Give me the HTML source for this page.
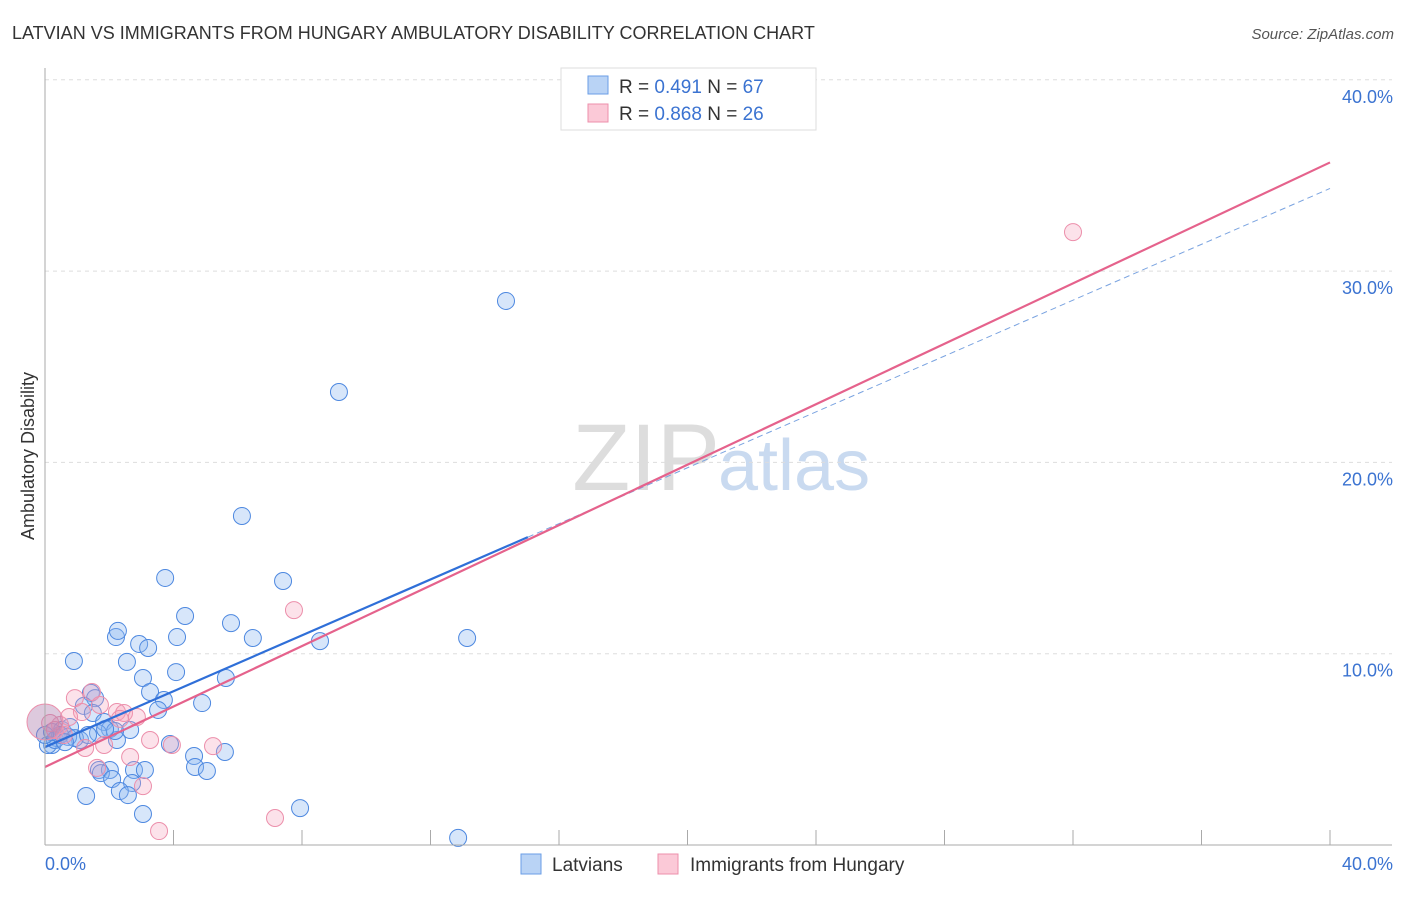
<!DOCTYPE html>
<html><head><meta charset="utf-8"><style>
body{margin:0;background:#fff;font-family:"Liberation Sans",sans-serif;}
svg text{font-family:"Liberation Sans",sans-serif;}
</style></head><body>
<svg id="chart" width="1406" height="892" xmlns="http://www.w3.org/2000/svg">
<text x="12" y="39" font-size="18" fill="#333">LATVIAN VS IMMIGRANTS FROM HUNGARY AMBULATORY DISABILITY CORRELATION CHART</text>
<text x="1394" y="39" font-size="15" fill="#555" text-anchor="end" font-style="italic">Source: ZipAtlas.com</text>
<text x="720" y="490" font-size="95" fill="#ddd" text-anchor="end" font-family="Liberation Serif">ZIP</text>
<text x="718" y="490" font-size="72" fill="#c9daf0">atlas</text>
<g id="grid"></g><g id="points"></g><g id="lines"></g>
<line x1="45" y1="68" x2="45" y2="845" stroke="#aaa"/>
<line x1="45" y1="845" x2="1392" y2="845" stroke="#aaa"/>
<text transform="translate(34,456) rotate(-90)" font-size="18" fill="#333" text-anchor="middle">Ambulatory Disability</text>
<text x="45" y="870" font-size="18" fill="#3b73d1">0.0%</text>
<text x="1393" y="870" font-size="18" fill="#3b73d1" text-anchor="end">40.0%</text>
<g>
<rect x="561" y="68" width="255" height="62" fill="#fff" stroke="#ddd"/>
<rect x="588" y="76" width="20" height="18" fill="#b9d3f5" stroke="#6a9ee6"/>
<rect x="588" y="104" width="20" height="18" fill="#fbc9d7" stroke="#ec8fab"/>
<text x="619" y="93" font-size="19" fill="#333">R = <tspan fill="#3b73d1">0.491</tspan>   N = <tspan fill="#3b73d1">67</tspan></text>
<text x="619" y="120" font-size="19" fill="#333">R = <tspan fill="#3b73d1">0.868</tspan>   N = <tspan fill="#3b73d1">26</tspan></text>
</g>
<g>
<rect x="521" y="854" width="20" height="20" fill="#b9d3f5" stroke="#6a9ee6"/>
<text x="552" y="871" font-size="19" fill="#333">Latvians</text>
<rect x="658" y="854" width="20" height="20" fill="#fbc9d7" stroke="#ec8fab"/>
<text x="690" y="871" font-size="19" fill="#333">Immigrants from Hungary</text>
</g>
</svg>
<script>
const yTicks=[10,20,30,40];
const yTickLabels=["10.0%","20.0%","30.0%","40.0%"];
const xTicks=[4,8,12,16,20,24,28,32,36,40];
const latviansX=[14.35,9.15,6.13,3.74,7.41,4.36,5.79,4.11,2.21,2.27,2.93,3.21,6.47,8.56,13.14,0.90,2.55,3.05,5.63,4.08,1.43,3.27,1.56,3.70,4.89,3.52,1.21,1.49,1.84,2.02,2.65,2.24,0.53,0.78,0.22,0.37,1.09,1.65,2.18,4.64,5.60,4.67,5.04,1.68,2.02,1.74,2.77,3.11,2.09,2.71,1.28,2.33,2.58,3.05,7.94,12.86,3.89,0.09,0.31,0.47,0.72,0.93,0.00,0.22,1.34,1.87,0.62];
const latviansY=[28.44,23.68,17.20,13.96,13.80,11.97,11.60,10.87,10.87,11.19,10.51,10.30,10.82,10.66,10.82,9.62,9.57,8.73,8.73,9.04,7.95,8.00,7.68,7.58,7.42,7.06,7.27,6.90,6.43,6.06,6.01,5.49,6.01,6.17,5.23,5.59,5.49,5.85,5.96,4.65,4.86,4.08,3.87,3.92,3.92,3.76,3.92,3.92,3.45,3.24,2.56,2.82,2.61,1.62,1.93,0.37,5.28,5.23,5.49,5.75,5.65,5.59,5.75,5.91,5.75,6.06,5.38];
const hungaryX=[32.0,7.75,1.46,0.93,1.71,1.15,2.24,2.46,2.86,0.75,3.27,3.95,5.23,2.65,3.05,1.62,3.55,7.16,0.47,0.16,0.31,1.84,1.25,2.33,0.59,0.0];
const hungaryY=[32.04,12.28,8.00,7.68,7.32,6.95,6.95,6.90,6.69,6.69,5.49,5.23,5.17,4.60,3.08,4.03,0.73,1.41,6.27,6.38,6.01,5.23,5.07,6.59,5.75,6.43];
const latviansFit=[5.12,0.730];
const hungaryFit=[4.08,0.790];
const NS="http://www.w3.org/2000/svg";
const sx=v=>45+v*32.125, sy=v=>845-v*19.13;
function mk(tag,attrs,parent){const e=document.createElementNS(NS,tag);for(const k in attrs)e.setAttribute(k,attrs[k]);parent.appendChild(e);return e;}
const grid=document.getElementById('grid');
yTicks.forEach((t,i)=>{
 const l=mk('line',{x1:45,x2:1392,y1:sy(t),y2:sy(t),stroke:'#ddd','stroke-dasharray':'4,4'},grid);
 
 
 const tx=mk('text',{x:1393,y:sy(t)+23,'font-size':18,fill:'#3b73d1','text-anchor':'end'},grid);
 tx.textContent=yTickLabels[i];
 
 
});
xTicks.forEach(t=>{
 const l=mk('line',{x1:sx(t),x2:sx(t),y1:830,y2:845,stroke:'#aaa'},grid);
 
 
});
const pts=document.getElementById('points');
latviansX.forEach((x,i)=>{
 const c=mk('circle',{cx:sx(x),cy:sy(latviansY[i]),r:8.5,fill:'rgba(140,182,240,0.35)',stroke:'#4d88e0','stroke-width':1},pts);
 
 
});
hungaryX.forEach((x,i)=>{
 const c=mk('circle',{cx:sx(x),cy:sy(hungaryY[i]),r:i==hungaryX.length-1?18:8.5,fill:i==hungaryX.length-1?'rgba(170,120,170,0.4)':'rgba(245,160,185,0.3)',stroke:'#ec8fab','stroke-width':1},pts);
 
 
});
const ln=document.getElementById('lines');
let l1=mk('line',{x1:sx(15.03),y1:sy(latviansFit[0]+latviansFit[1]*15.03),x2:sx(40),y2:sy(latviansFit[0]+latviansFit[1]*40),stroke:'#7aa3e0','stroke-width':1,'stroke-dasharray':'6,4'},ln);


let l2=mk('line',{x1:sx(0),y1:sy(hungaryFit[0]),x2:sx(40),y2:sy(hungaryFit[0]+hungaryFit[1]*40),stroke:'#e5628c','stroke-width':2.2},ln);


let l3=mk('line',{x1:sx(0),y1:sy(latviansFit[0]),x2:sx(15.03),y2:sy(latviansFit[0]+latviansFit[1]*15.03),stroke:'#2f6fd8','stroke-width':2.2},ln);


</script>
</body></html>
